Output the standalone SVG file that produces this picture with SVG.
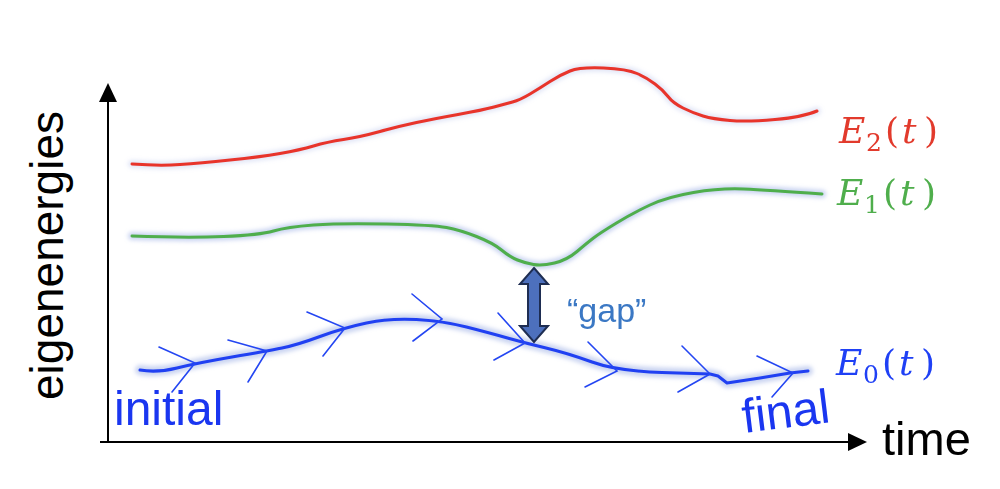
<svg xmlns="http://www.w3.org/2000/svg" width="1000" height="489" viewBox="0 0 1000 489">
<style>
  .axis{stroke:#000;stroke-width:2;fill:none}
  .glow{fill:none;stroke:#9fb0e6;stroke-width:8;stroke-linecap:round;stroke-linejoin:round;opacity:.55}
  .curve{fill:none;stroke-width:3;stroke-linecap:round;stroke-linejoin:round}
  .chev{fill:none;stroke:#2446f2;stroke-width:1.6;stroke-linecap:round;stroke-linejoin:miter}
  .sans{font-family:"Liberation Sans",Arial,sans-serif}
  .math{font-family:"DejaVu Serif","Liberation Serif",serif;font-size:36px}
  .it{font-style:italic}
</style>
<defs>
  <filter id="blur" x="-10%" y="-50%" width="120%" height="200%"><feGaussianBlur stdDeviation="2"/></filter>
</defs>
<rect width="1000" height="489" fill="#fff"/>

<g id="axes">
  <line class="axis" x1="108" y1="442" x2="108" y2="100"/>
  <path d="M99,102 L108,83 L117,102 z" fill="#000"/>
  <line class="axis" x1="100" y1="442" x2="850" y2="442"/>
  <path d="M848,433 L867,442 L848,451 z" fill="#000"/>
</g>

<g id="connectors">
  <g id="glows" filter="url(#blur)">
    <path class="glow" style="opacity:.3" d="M132,164 Q160,166 180,164.5 Q200,163 230,160 Q260,157 280,153.5 Q300,150 313.5,146 Q327,142 343.5,139.5 Q360,137 380,131.5 Q400,126 416.5,122.5 Q433,119 458,114.5 Q483,110 494,107 Q505,104 512.5,102 Q520,100 530,94 Q540,88 550,81.5 Q560,75 570,71 Q580,67 603.5,68 Q627,69 637,73.5 Q647,78 655,84 Q663,90 668,96.5 Q673,103 683,108 Q693,113 703,116 Q713,119 730,120.5 Q747,122 775,119.5 Q803,117 817,111"/>
    <path class="glow" d="M132,236 Q187,238 223.5,236.5 Q260,235 273.5,231 Q287,227 313.5,225 Q340,223 386.5,224 Q433,225 446.5,227.5 Q460,230 476.5,236.5 Q493,243 501.5,250 Q510,257 517.5,260 Q525,263 533.5,264.5 Q542,266 554.5,263 Q567,260 577,251.5 Q587,243 593.5,238 Q600,233 616.5,223 Q633,213 650,205 Q667,197 693.5,192.5 Q720,188 743.5,189 Q767,190 822,194"/>
    <path class="glow" style="stroke-width:10" d="M140,370 Q157,373 177,368 Q197,363 232,357 Q267,351 282,348 Q297,345 320,336.5 Q343,328 366.5,323 Q390,318 416.5,319.5 Q443,321 466.5,327 Q490,333 507.5,338 Q525,343 546,348 Q567,353 592,362 Q617,371 662,372.5 L710,374 L718,376 L727,383 L760,378 L790,373 L808,371"/>
  </g>
  <path id="E2-curve" class="curve" stroke="#e8342b" d="M132,164 Q160,166 180,164.5 Q200,163 230,160 Q260,157 280,153.5 Q300,150 313.5,146 Q327,142 343.5,139.5 Q360,137 380,131.5 Q400,126 416.5,122.5 Q433,119 458,114.5 Q483,110 494,107 Q505,104 512.5,102 Q520,100 530,94 Q540,88 550,81.5 Q560,75 570,71 Q580,67 603.5,68 Q627,69 637,73.5 Q647,78 655,84 Q663,90 668,96.5 Q673,103 683,108 Q693,113 703,116 Q713,119 730,120.5 Q747,122 775,119.5 Q803,117 817,111"/>
  <path id="E1-curve" class="curve" stroke="#4fae4c" d="M132,236 Q187,238 223.5,236.5 Q260,235 273.5,231 Q287,227 313.5,225 Q340,223 386.5,224 Q433,225 446.5,227.5 Q460,230 476.5,236.5 Q493,243 501.5,250 Q510,257 517.5,260 Q525,263 533.5,264.5 Q542,266 554.5,263 Q567,260 577,251.5 Q587,243 593.5,238 Q600,233 616.5,223 Q633,213 650,205 Q667,197 693.5,192.5 Q720,188 743.5,189 Q767,190 822,194"/>
  <path id="E0-curve" class="curve" stroke="#2040f2" d="M140,370 Q157,373 177,368 Q197,363 232,357 Q267,351 282,348 Q297,345 320,336.5 Q343,328 366.5,323 Q390,318 416.5,319.5 Q443,321 466.5,327 Q490,333 507.5,338 Q525,343 546,348 Q567,353 592,362 Q617,371 662,372.5 L710,374 L718,376 L727,383 L760,378 L790,373 L808,371"/>
  <g id="chevrons">
    <path class="chev" d="M159,347 L195,363 L172,392"/>
    <path class="chev" d="M228,340 L267,351 L248,382"/>
    <path class="chev" d="M307,312 L345,328 L323,356"/>
    <path class="chev" d="M412,294 L442,319 L413,341"/>
    <path class="chev" d="M498,313 L525,343 L494,360"/>
    <path class="chev" d="M588,342 L617,371 L585,387"/>
    <path class="chev" d="M682,346 L710,374 L678,392"/>
    <path class="chev" d="M757,356 L793,373 L772,397"/>
  </g>
  <path id="gap-arrow" d="M534,268 L548,284 L540,284 L540,326 L548,326 L534,342 L520,326 L528,326 L528,284 L520,284 z" fill="#4d70bd" stroke="#1e2d52" stroke-width="2" stroke-linejoin="miter"/>
</g>

<g id="label-eigenenergies">
  <text class="sans" x="0" y="0" font-size="46" fill="#000" transform="translate(63,400) rotate(-90)">eigenenergies</text>
</g>
<g id="label-time">
  <text class="sans" x="882" y="455" font-size="47" fill="#000">time</text>
</g>
<g id="label-initial">
  <text class="sans" x="114" y="425" font-size="48" fill="#1a36f0">initial</text>
</g>
<g id="label-final">
  <text class="sans" x="0" y="0" font-size="48" fill="#1a36f0" transform="translate(744,433) rotate(-7)">final</text>
</g>
<g id="label-gap">
  <text class="sans" x="567" y="322" font-size="34" fill="#3b78c4">“gap”</text>
</g>
<g id="label-E2" fill="#e23a2c">
  <text class="math"><tspan class="it" x="839" y="143">E</tspan><tspan x="866" y="151" font-size="25">2</tspan><tspan x="885" y="143">(</tspan><tspan class="it" x="902" y="143">t</tspan><tspan x="924" y="143">)</tspan></text>
</g>
<g id="label-E1" fill="#4fae4c">
  <text class="math"><tspan class="it" x="837" y="205">E</tspan><tspan x="864" y="213" font-size="25">1</tspan><tspan x="883" y="205">(</tspan><tspan class="it" x="900" y="205">t</tspan><tspan x="922" y="205">)</tspan></text>
</g>
<g id="label-E0" fill="#1f40f5">
  <text class="math"><tspan class="it" x="836" y="375">E</tspan><tspan x="863" y="383" font-size="25">0</tspan><tspan x="882" y="375">(</tspan><tspan class="it" x="899" y="375">t</tspan><tspan x="921" y="375">)</tspan></text>
</g>
</svg>
